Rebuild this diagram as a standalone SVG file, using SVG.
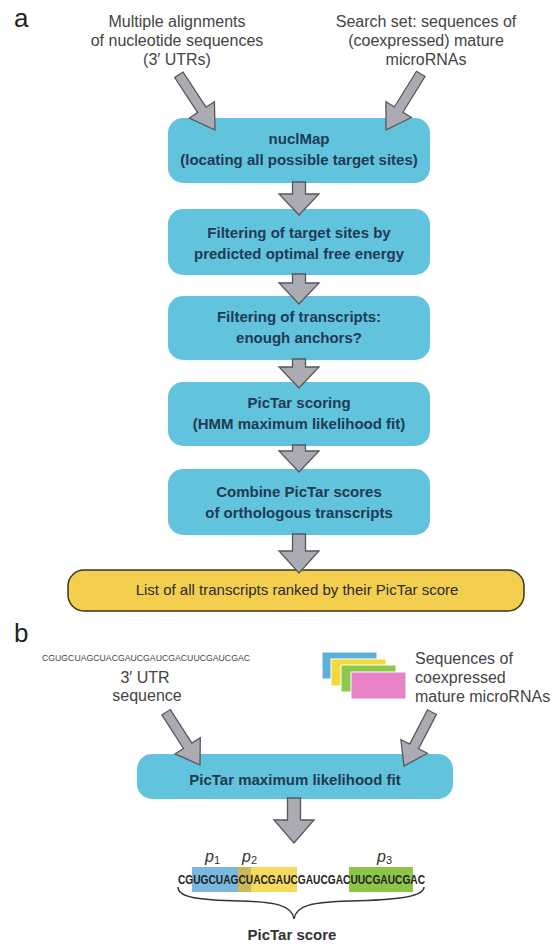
<svg xmlns="http://www.w3.org/2000/svg" width="555" height="944" viewBox="0 0 555 944">
<style>
.lbl{font-family:"Liberation Sans",Arial,sans-serif;font-size:26px;fill:#222}
.src{font-family:"Liberation Sans",Arial,sans-serif;font-size:16px;fill:#444}
.box{fill:#62c4dc}
.bt{font-family:"Liberation Sans",Arial,sans-serif;font-size:15px;font-weight:bold;fill:#213a55;text-anchor:middle}
.arr{fill:#ababb3;stroke:#585858;stroke-width:1.3;stroke-linejoin:miter}
.seq{font-family:"Liberation Sans",Arial,sans-serif;font-weight:bold;fill:#222}
.pl{font-family:"Liberation Sans",Arial,sans-serif;font-size:16px;font-style:italic;fill:#333}
</style>
<defs>
<path id="diag" d="M0,0 L-15,-24 L-5,-24 L-5,-66 L5,-66 L5,-24 L15,-24 Z"/>
</defs>
<rect width="555" height="944" fill="#fff"/>

<text class="lbl" x="14" y="27">a</text>
<text class="lbl" x="14" y="642">b</text>

<g id="src_alignments">
<text class="src" text-anchor="middle" x="177" y="27">Multiple alignments</text>
<text class="src" text-anchor="middle" x="177" y="46">of nucleotide sequences</text>
<text class="src" text-anchor="middle" x="177" y="65">(3′ UTRs)</text>
</g>
<g id="src_searchset">
<text class="src" text-anchor="middle" x="426" y="27">Search set: sequences of</text>
<text class="src" text-anchor="middle" x="426" y="46">(coexpressed) mature</text>
<text class="src" text-anchor="middle" x="426" y="65">microRNAs</text>
</g>

<g id="n_nuclmap">
<rect class="box" x="168" y="118" width="262" height="65" rx="15"/>
<text class="bt" x="299" y="144">nuclMap</text>
<text class="bt" x="299" y="165">(locating all possible target sites)</text>
</g>
<g id="n_filter_sites">
<rect class="box" x="168" y="209" width="262" height="66" rx="15"/>
<text class="bt" x="299" y="238">Filtering of target sites by</text>
<text class="bt" x="299" y="259">predicted optimal free energy</text>
</g>
<g id="n_filter_transcripts">
<rect class="box" x="168" y="296" width="262" height="64" rx="15"/>
<text class="bt" x="299" y="322">Filtering of transcripts:</text>
<text class="bt" x="299" y="343">enough anchors?</text>
</g>
<g id="n_pictar_scoring">
<rect class="box" x="168" y="382" width="262" height="64" rx="15"/>
<text class="bt" x="299" y="408">PicTar scoring</text>
<text class="bt" x="299" y="429">(HMM maximum likelihood fit)</text>
</g>
<g id="n_combine">
<rect class="box" x="168" y="469" width="262" height="66" rx="15"/>
<text class="bt" x="299" y="497">Combine PicTar scores</text>
<text class="bt" x="299" y="518">of orthologous transcripts</text>
</g>
<g id="n_list">
<rect x="68" y="570" width="456" height="41" rx="16" fill="#f4cf4f" stroke="#3b3520" stroke-width="1.5"/>
<text x="297" y="595" text-anchor="middle" font-family="'Liberation Sans',Arial,sans-serif" font-size="15" fill="#2a2a2a">List of all transcripts ranked by their PicTar score</text>
</g>

<g id="src_utr">
<text x="42" y="661" font-family="'Liberation Sans',Arial,sans-serif" font-size="9" fill="#444" textLength="208" lengthAdjust="spacingAndGlyphs">CGUGCUAGCUACGAUCGAUCGACUUCGAUCGAC</text>
<text class="src" text-anchor="middle" x="145" y="683">3′ UTR</text>
<text class="src" text-anchor="middle" x="147" y="701">sequence</text>
</g>
<g id="src_mirnas">
<rect x="322" y="652" width="55" height="27" fill="#5fb0d8" stroke="#fff" stroke-width="1"/>
<rect x="331" y="659" width="55" height="27" fill="#f5d83a" stroke="#fff" stroke-width="1"/>
<rect x="341" y="665" width="55" height="27" fill="#8cc84b" stroke="#fff" stroke-width="1"/>
<rect x="351" y="672" width="55" height="27" fill="#e883c8" stroke="#fff" stroke-width="1"/>
<text class="src" x="415" y="664">Sequences of</text>
<text class="src" x="415" y="683">coexpressed</text>
<text class="src" x="415" y="702">mature microRNAs</text>
</g>

<g id="n_pictar_fit">
<rect class="box" x="137" y="754" width="316" height="45" rx="15"/>
<text class="bt" x="295" y="785">PicTar maximum likelihood fit</text>
</g>

<g id="n_score">
<rect x="192" y="867" width="46" height="25" fill="#7ab8e0"/>
<rect x="238" y="867" width="13" height="25" fill="#c9b95a"/>
<rect x="251" y="867" width="46" height="25" fill="#f6da5c"/>
<rect x="349" y="867" width="64" height="25" fill="#8dc646"/>
<text class="pl" x="205" y="862">p<tspan font-size="11" font-style="normal" dy="2">1</tspan></text>
<text class="pl" x="242" y="862">p<tspan font-size="11" font-style="normal" dy="2">2</tspan></text>
<text class="pl" x="377" y="862">p<tspan font-size="11" font-style="normal" dy="2">3</tspan></text>
<text class="seq" x="178" y="884" font-size="13" textLength="247" lengthAdjust="spacingAndGlyphs">CGUGCUAGCUACGAUCGAUCGACUUCGAUCGAC</text>
<path d="M178,887 C178,898 200,900 240,901 C275,902 292,905 294,919 C296,905 313,902 350,901 C390,900 424,898 424,887" fill="none" stroke="#333" stroke-width="1.5"/>
<text x="292" y="940" text-anchor="middle" font-family="'Liberation Sans',Arial,sans-serif" font-size="15" font-weight="bold" fill="#333">PicTar score</text>
</g>

<g id="connectors">
<use href="#diag" class="arr" transform="translate(215,130) rotate(-33.2)"/>
<use href="#diag" class="arr" transform="translate(386,130) rotate(31.8)"/>
<path class="arr" d="M292.5,182 H305.5 V194 H319 L299,215 L279,194 H292.5 Z"/>
<path class="arr" d="M292.5,274 H305.5 V283 H319 L299,304 L279,283 H292.5 Z"/>
<path class="arr" d="M292.5,359 H305.5 V367 H319 L299,388 L279,367 H292.5 Z"/>
<path class="arr" d="M292.5,445 H305.5 V451 H319 L299,472 L279,451 H292.5 Z"/>
<path class="arr" d="M292.5,534 H305.5 V551 H319 L299,573 L279,551 H292.5 Z"/>
<use href="#diag" class="arr" transform="translate(200,765) rotate(-32.7) scale(1,0.95)"/>
<use href="#diag" class="arr" transform="translate(404,766) rotate(27.4) scale(1,0.92)"/>
<path class="arr" d="M287.5,798 H300.5 V820 H314 L294,843 L274,820 H287.5 Z"/>
</g>
</svg>
